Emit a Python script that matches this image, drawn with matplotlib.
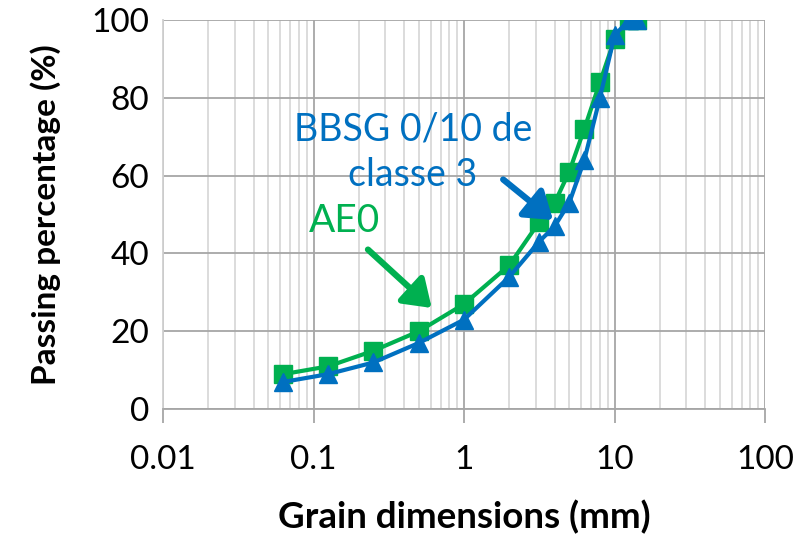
import matplotlib.pyplot as plt
from matplotlib.ticker import LogLocator, FixedLocator, FixedFormatter, NullLocator

plt.rcParams['font.family'] = ['Lato', 'DejaVu Sans']

# sieve sizes (mm)
sieves = [0.063, 0.125, 0.25, 0.5, 1, 2, 3.15, 4, 5, 6.3, 8, 10, 12.5, 14]
# passing percentages
ae0 = [9, 11, 15, 20, 27, 37, 48, 53, 61, 72, 84, 95, 100, 100]
bbsg = [7, 9, 12, 17, 23, 34, 43, 47, 53, 64, 80, 96, 100, 100]

x_ticks = [0.01, 0.1, 1, 10, 100]
x_labels = ['0.01', '0.1', '1', '10', '100']
y_ticks = [0, 20, 40, 60, 80, 100]

green = '#00B050'
blue = '#0070C0'

fig = plt.figure(figsize=(8.07, 5.37), dpi=100)
ax = fig.add_axes([0.202, 0.238, 0.746, 0.725])

ax.plot(sieves, ae0, color=green, lw=3, marker='s', markersize=12.5, zorder=3)
ax.plot(sieves, bbsg, color=blue, lw=3, marker='^', markersize=13.5, zorder=4)

ax.set_xscale('log')
ax.set_xlim(0.01, 100)
ax.set_ylim(0, 100)
ax.xaxis.set_major_locator(FixedLocator(x_ticks))
ax.xaxis.set_major_formatter(FixedFormatter(x_labels))
ax.xaxis.set_minor_locator(LogLocator(base=10, subs=range(2, 10)))
ax.set_yticks(y_ticks)
ax.yaxis.set_minor_locator(NullLocator())

ax.grid(which='major', color='#a6a6a6', lw=1.3)
ax.grid(which='minor', axis='x', color='#d9d9d9', lw=1.3)
ax.set_axisbelow(True)
ax.tick_params(axis='x', which='major', length=10, width=1.3, color='#a6a6a6',
               labelsize=24, pad=16)
ax.tick_params(axis='x', which='minor', length=0)
ax.tick_params(axis='y', length=0, labelsize=24, pad=10)
for s in ['top', 'right']:
    ax.spines[s].set_visible(False)
ax.spines['left'].set_color('#d0d0d0')
ax.spines['left'].set_linewidth(1.3)
ax.spines['bottom'].set_color('#a6a6a6')
ax.spines['bottom'].set_linewidth(1.3)

ax.set_xlabel('Grain dimensions (mm)', fontsize=26.5, fontweight='bold', labelpad=18)
ax.set_ylabel('Passing percentage (%)', fontsize=24, fontweight='bold', labelpad=22)

# annotations
ax.text(0.16, 48.3, 'AE0', fontsize=28, color=green, ha='center', va='center')
ax.annotate('', xy=(0.61, 26), xytext=(0.23, 41),
            arrowprops=dict(arrowstyle='-|>,head_width=0.55,head_length=0.8',
                            mutation_scale=20, color=green, lw=4.5,
                            shrinkA=0, shrinkB=0))
ax.text(0.458, 66, 'BBSG 0/10 de\nclasse 3', fontsize=27, color=blue,
        ha='center', va='center', linespacing=1.3)
ax.annotate('', xy=(3.9, 48.6), xytext=(1.82, 59),
            arrowprops=dict(arrowstyle='-|>,head_width=0.55,head_length=0.8',
                            mutation_scale=20, color=blue, lw=4.5,
                            shrinkA=0, shrinkB=0))

fig.savefig('out.png', dpi=100)
